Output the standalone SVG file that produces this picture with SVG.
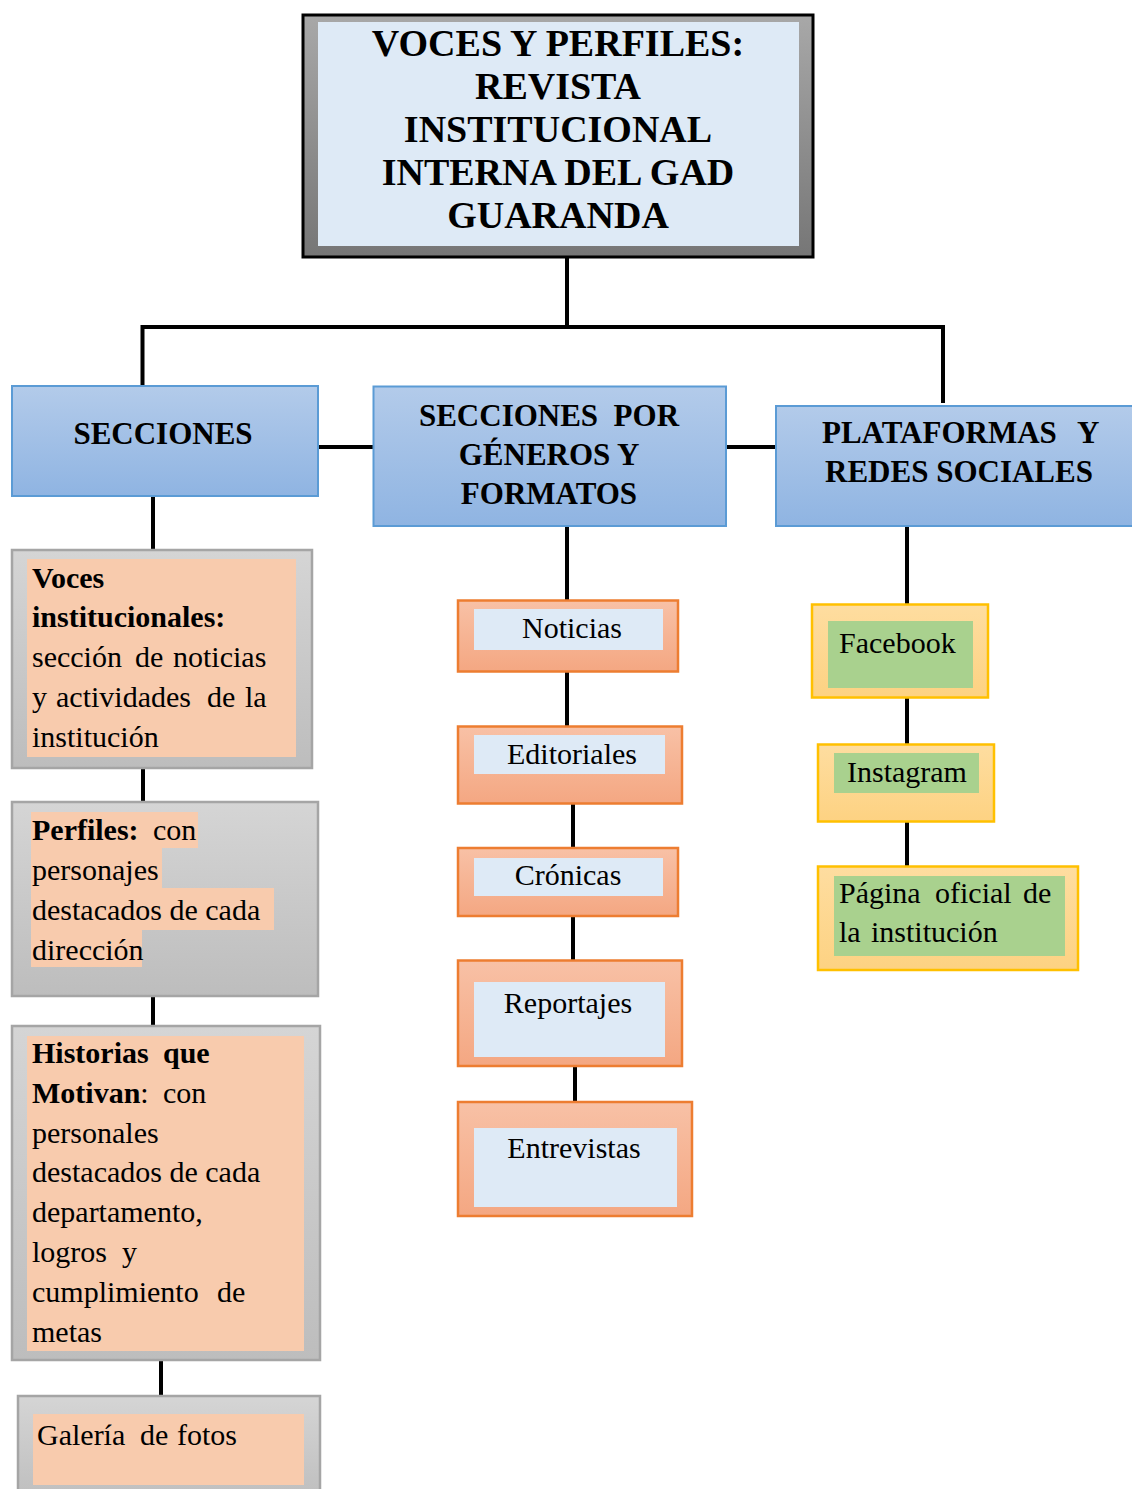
<svg xmlns="http://www.w3.org/2000/svg" width="1132" height="1489" viewBox="0 0 1132 1489">
<defs>
<linearGradient id="gFrame" x1="0" y1="0" x2="0" y2="1"><stop offset="0" stop-color="#a8a8a8"/><stop offset="1" stop-color="#767676"/></linearGradient>
<linearGradient id="gBlue" x1="0" y1="0" x2="0" y2="1"><stop offset="0" stop-color="#b3cbea"/><stop offset="1" stop-color="#8fb4e2"/></linearGradient>
<linearGradient id="gGray" x1="0" y1="0" x2="0" y2="1"><stop offset="0" stop-color="#d5d5d5"/><stop offset="1" stop-color="#bdbdbd"/></linearGradient>
<linearGradient id="gOrange" x1="0" y1="0" x2="0" y2="1"><stop offset="0" stop-color="#f8c1a6"/><stop offset="1" stop-color="#f4a782"/></linearGradient>
<linearGradient id="gGold" x1="0" y1="0" x2="0" y2="1"><stop offset="0" stop-color="#fedda0"/><stop offset="1" stop-color="#fdd282"/></linearGradient>
</defs>
<style>
text{font-family:"Liberation Serif","Times New Roman",serif;fill:#000;}
.title{font-size:38px;font-weight:bold;text-anchor:middle;}
.head{font-size:31px;font-weight:bold;text-anchor:middle;}
.t{font-size:30px;}
.tc{font-size:30px;text-anchor:middle;}
.b{font-weight:bold;}
.blue{fill:url(#gBlue);stroke:#5b9bd5;stroke-width:2;}
.gray{fill:url(#gGray);stroke:#a5a5a5;stroke-width:2.5;}
.peach{fill:#f8cbad;}
.orange{fill:url(#gOrange);stroke:#ed7d31;stroke-width:2.5;}
.lblue{fill:#deeaf6;}
.gold{fill:url(#gGold);stroke:#ffc000;stroke-width:2.5;}
.green{fill:#a9d18e;}
.conn{stroke:#000;stroke-width:4;fill:none;}
</style>
<g id="connectors">
<line class="conn" x1="567" y1="258" x2="567" y2="329"/>
<polyline class="conn" points="142.5,386 142.5,327 943,327 943,403"/>
<line class="conn" x1="318" y1="447" x2="373" y2="447"/>
<line class="conn" x1="726" y1="447" x2="776" y2="447"/>
<line class="conn" x1="153" y1="496" x2="153" y2="550"/>
<line class="conn" x1="143" y1="768" x2="143" y2="802"/>
<line class="conn" x1="153" y1="996" x2="153" y2="1026"/>
<line class="conn" x1="161" y1="1360" x2="161" y2="1396"/>
<line class="conn" x1="567" y1="526" x2="567" y2="600"/>
<line class="conn" x1="567" y1="672" x2="567" y2="726"/>
<line class="conn" x1="573" y1="804" x2="573" y2="848"/>
<line class="conn" x1="573" y1="916" x2="573" y2="960"/>
<line class="conn" x1="575" y1="1066" x2="575" y2="1102"/>
<line class="conn" x1="907" y1="526" x2="907" y2="604"/>
<line class="conn" x1="907" y1="698" x2="907" y2="744"/>
<line class="conn" x1="907" y1="822" x2="907" y2="866"/>
</g>
<g id="title">
<rect x="303" y="15" width="510" height="242" fill="url(#gFrame)" stroke="#000" stroke-width="3"/>
<rect x="318" y="22" width="481" height="224" class="lblue"/>
<text class="title" x="558" y="56">VOCES Y PERFILES:</text>
<text class="title" x="558" y="99">REVISTA</text>
<text class="title" x="558" y="142">INSTITUCIONAL</text>
<text class="title" x="558" y="185">INTERNA DEL GAD</text>
<text class="title" x="558" y="228">GUARANDA</text>
</g>
<g id="secciones">
<rect x="12" y="386" width="306" height="110" class="blue"/>
<text class="head" x="163" y="444">SECCIONES</text>
</g>
<g id="generos">
<rect x="373.5" y="386.5" width="352.5" height="139.5" class="blue"/>
<text class="head" x="549" y="426" xml:space="preserve">SECCIONES  POR</text>
<text class="head" x="549" y="465">GÉNEROS Y</text>
<text class="head" x="549" y="504">FORMATOS</text>
</g>
<g id="plataformas">
<rect x="776" y="406" width="370" height="120" class="blue"/>
<text class="head" x="822" y="443" style="text-anchor:start">PLATAFORMAS</text>
<text class="head" x="1077" y="443" style="text-anchor:start">Y</text>
<text class="head" x="959" y="482">REDES SOCIALES</text>
</g>
<g id="voces">
<rect x="12" y="550" width="300" height="218" class="gray"/>
<rect x="27" y="559" width="269" height="198" class="peach"/>
<text class="t b" x="32" y="588">Voces</text>
<text class="t b" x="32" y="627">institucionales:</text>
<text class="t" y="667"><tspan x="32">sección</tspan><tspan x="135">de</tspan><tspan x="173">noticias</tspan></text>
<text class="t" y="707"><tspan x="32">y</tspan><tspan x="56">actividades</tspan><tspan x="207">de</tspan><tspan x="245">la</tspan></text>
<text class="t" x="32" y="747">institución</text>
</g>
<g id="perfiles">
<rect x="12" y="802" width="306" height="194" class="gray"/>
<rect x="31" y="812" width="167" height="36" class="peach"/>
<rect x="31" y="847" width="131" height="42" class="peach"/>
<rect x="31" y="888" width="243" height="42" class="peach"/>
<rect x="31" y="929" width="111" height="38" class="peach"/>
<text class="t" y="840"><tspan x="32" class="b">Perfiles:</tspan><tspan x="153">con</tspan></text>
<text class="t" x="32" y="880">personajes</text>
<text class="t" x="32" y="920">destacados de cada</text>
<text class="t" x="32" y="960">dirección</text>
</g>
<g id="historias">
<rect x="12" y="1026" width="308" height="334" class="gray"/>
<rect x="27" y="1036" width="277" height="315" class="peach"/>
<text class="t" y="1063"><tspan x="32" class="b">Historias</tspan><tspan x="163" class="b">que</tspan></text>
<text class="t" y="1103"><tspan x="32" class="b">Motivan</tspan><tspan>:</tspan><tspan x="163">con</tspan></text>
<text class="t" x="32" y="1143">personales</text>
<text class="t" x="32" y="1182">destacados de cada</text>
<text class="t" x="32" y="1222">departamento,</text>
<text class="t" y="1262"><tspan x="32">logros</tspan><tspan x="122">y</tspan></text>
<text class="t" y="1302"><tspan x="32">cumplimiento</tspan><tspan x="217">de</tspan></text>
<text class="t" x="32" y="1342">metas</text>
</g>
<g id="galeria">
<rect x="18" y="1396" width="302" height="110" class="gray"/>
<rect x="33" y="1414" width="271" height="71" class="peach"/>
<text class="t" y="1445"><tspan x="37">Galería</tspan><tspan x="140">de</tspan><tspan x="177">fotos</tspan></text>
</g>
<g id="noticias">
<rect x="458" y="600.5" width="220" height="71" class="orange"/>
<rect x="474" y="609" width="189" height="41" class="lblue"/>
<text class="tc" x="572" y="638">Noticias</text>
</g>
<g id="editoriales">
<rect x="458" y="726.5" width="224" height="77" class="orange"/>
<rect x="474" y="735" width="191" height="39" class="lblue"/>
<text class="tc" x="572" y="764">Editoriales</text>
</g>
<g id="cronicas">
<rect x="458" y="848" width="220" height="68" class="orange"/>
<rect x="474" y="858" width="189" height="38" class="lblue"/>
<text class="tc" x="568" y="885">Crónicas</text>
</g>
<g id="reportajes">
<rect x="458" y="960.5" width="224" height="105.5" class="orange"/>
<rect x="474" y="982" width="191" height="75" class="lblue"/>
<text class="tc" x="568" y="1013">Reportajes</text>
</g>
<g id="entrevistas">
<rect x="458" y="1102" width="234" height="114" class="orange"/>
<rect x="474" y="1128" width="203" height="79" class="lblue"/>
<text class="tc" x="574" y="1158">Entrevistas</text>
</g>
<g id="facebook">
<rect x="812" y="604.5" width="176" height="93" class="gold"/>
<rect x="828" y="621" width="145" height="67" class="green"/>
<text class="t" x="839" y="653">Facebook</text>
</g>
<g id="instagram">
<rect x="818" y="744.5" width="176" height="77" class="gold"/>
<rect x="834" y="753" width="145" height="40" class="green"/>
<text class="t" x="847" y="782">Instagram</text>
</g>
<g id="pagina">
<rect x="818" y="866.5" width="260" height="103.5" class="gold"/>
<rect x="834" y="876" width="231" height="80" class="green"/>
<text class="t" y="903"><tspan x="839">Página</tspan><tspan x="935">oficial</tspan><tspan x="1023">de</tspan></text>
<text class="t" y="942"><tspan x="839">la</tspan><tspan x="871">institución</tspan></text>
</g>
</svg>
